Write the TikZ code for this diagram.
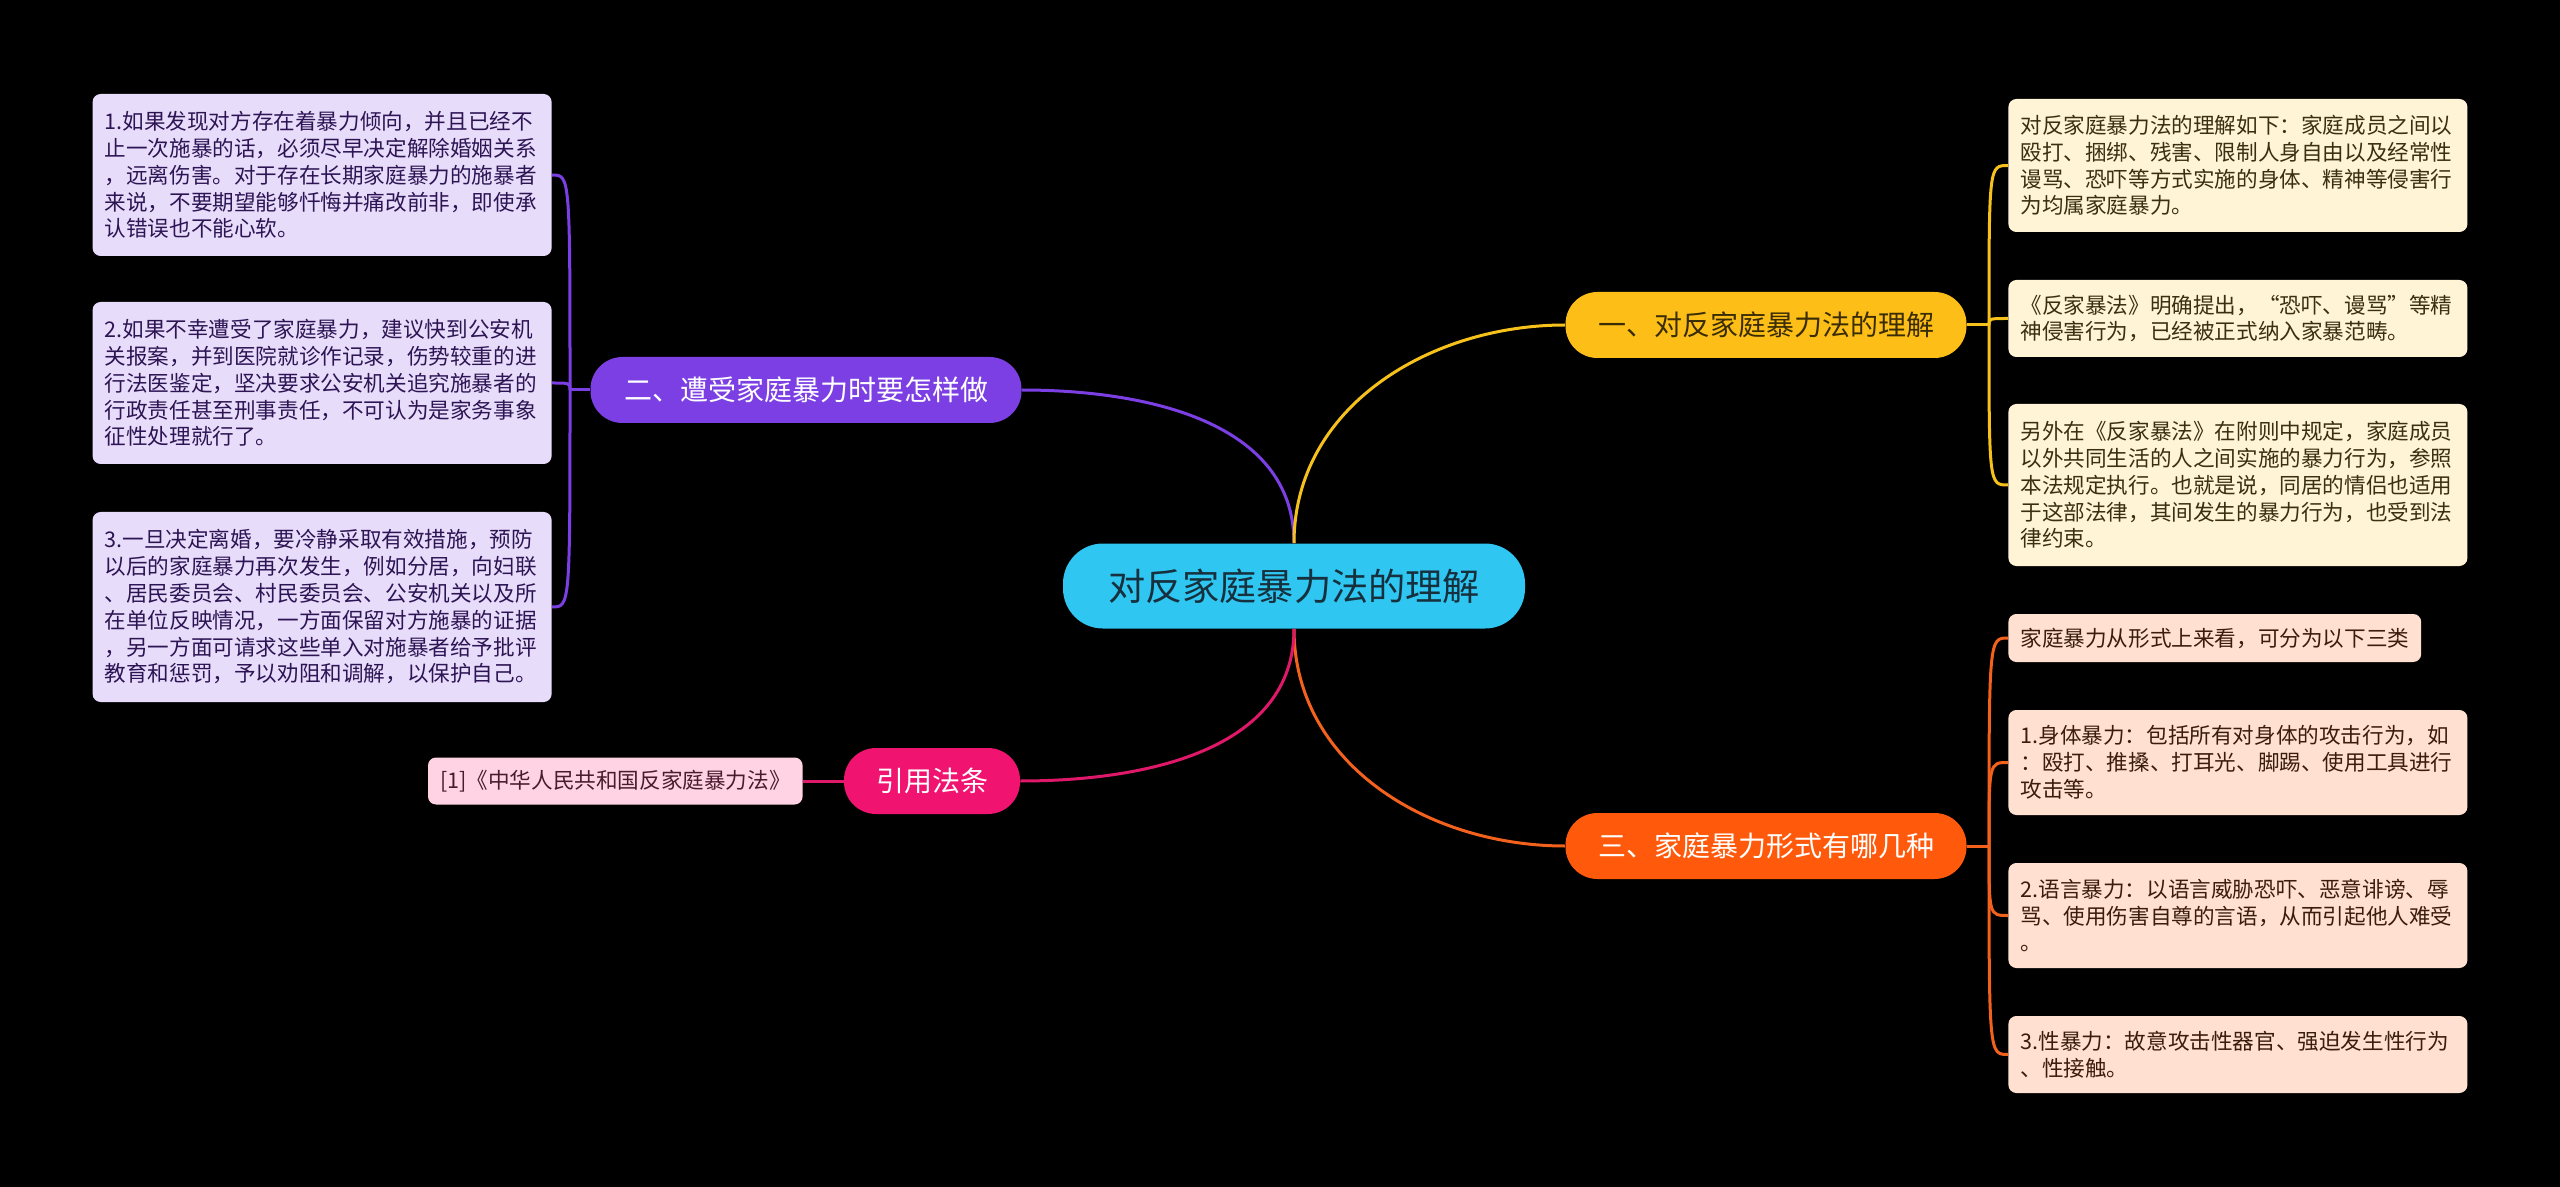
\documentclass[tikz,border=0pt]{standalone}
\usepackage{fontspec}
\setmainfont{Noto Sans CJK SC}
\usetikzlibrary{positioning}
\definecolor{Night}{HTML}{000000}
\definecolor{rootfill}{HTML}{2FC6F2}
\definecolor{roottext}{HTML}{17303D}
\definecolor{goldfill}{HTML}{FDBF17}
\definecolor{goldline}{HTML}{F7C11C}
\definecolor{goldtext}{HTML}{3A2C05}
\definecolor{goldleaf}{HTML}{FFF4D6}
\definecolor{goldink}{HTML}{3B2F12}
\definecolor{viofill}{HTML}{7B3FE4}
\definecolor{violeaf}{HTML}{E8DCFB}
\definecolor{vioink}{HTML}{2D1554}
\definecolor{orgfill}{HTML}{FF5A0C}
\definecolor{orgline}{HTML}{F2621C}
\definecolor{orgleaf}{HTML}{FFE0D1}
\definecolor{orgink}{HTML}{3B1D0E}
\definecolor{pnkfill}{HTML}{F0136F}
\definecolor{pnkline}{HTML}{E0186A}
\definecolor{pnkleaf}{HTML}{FFD3E4}
\definecolor{pnkink}{HTML}{4A1A2E}
\tikzset{
  root/.style={rectangle,rounded corners=20pt,fill=rootfill,text=roottext,font=\fontsize{18.6}{22}\selectfont,minimum width=231pt,minimum height=42.5pt},
  br/.style={rectangle,rounded corners=16pt,font=\fontsize{14}{17}\selectfont,minimum height=33pt,inner xsep=10pt},
  lf/.style={rectangle,rounded corners=4pt,font=\fontsize{10.8}{13.4}\selectfont,align=left,inner xsep=6pt,inner ysep=0pt},
  wide/.style={lf,text width=217.5pt},
  vleaf/.style={wide,anchor=east,fill=violeaf,text=vioink},
  gleaf/.style={wide,anchor=west,fill=goldleaf,text=goldink},
  oleaf/.style={wide,anchor=west,fill=orgleaf,text=orgink},
  lk/.style={line width=1.5pt},
  vio/.style={lk,draw=viofill},
  gold/.style={lk,draw=goldline},
  org/.style={lk,draw=orgline},
  pnk/.style={lk,draw=pnkline},
}
\begin{document}
\begin{tikzpicture}[x=0.5pt,y=-0.5pt]
\fill[Night] (0,0) rectangle (2560,1187);
% -root-
\node[root] (ctr) at (1294,586) {对反家庭暴力法的理解};
% -branches-
\node[br,fill=goldfill,text=goldtext,minimum width=200.5pt] (b1) at (1766,325) {一、对反家庭暴力法的理解};
\node[br,fill=viofill,text=white,minimum width=215.5pt] (b2) at (806,390) {二、遭受家庭暴力时要怎样做};
\node[br,fill=orgfill,text=white,minimum width=200.5pt] (b3) at (1766,846) {三、家庭暴力形式有哪几种};
\node[br,fill=pnkfill,text=white,minimum width=88pt] (b4) at (932,781) {引用法条};
\draw[vio] (ctr.north) to[out=90,in=0] (b2.east);
\draw[gold] (ctr.north) to[out=90,in=180] (b1.west);
\draw[org] (ctr.south) to[out=-90,in=180] (b3.west);
\draw[pnk] (ctr.south) to[out=-90,in=0] (b4.east);
% -left leaves-
\node[vleaf,minimum height=81pt] (l1) at (552,175) {1.如果发现对方存在着暴力倾向，并且已经不\\止一次施暴的话，必须尽早决定解除婚姻关系\\，远离伤害。对于存在长期家庭暴力的施暴者\\来说，不要期望能够忏悔并痛改前非，即使承\\认错误也不能心软。};
\node[vleaf,minimum height=81pt] (l2) at (552,383) {2.如果不幸遭受了家庭暴力，建议快到公安机\\关报案，并到医院就诊作记录，伤势较重的进\\行法医鉴定，坚决要求公安机关追究施暴者的\\行政责任甚至刑事责任，不可认为是家务事象\\征性处理就行了。};
\node[vleaf,minimum height=95pt] (l3) at (552,607) {3.一旦决定离婚，要冷静采取有效措施，预防\\以后的家庭暴力再次发生，例如分居，向妇联\\、居民委员会、村民委员会、公安机关以及所\\在单位反映情况，一方面保留对方施暴的证据\\，另一方面可请求这些单入对施暴者给予批评\\教育和惩罚，予以劝阻和调解，以保护自己。};
\coordinate (s2) at (570,390);
\draw[vio] (b2.west) -- (s2);
\foreach \n in {l1,l2,l3}{\draw[vio] (s2) .. controls (s2 |- \n.east) .. (\n.east);}
% -citation-
\node[lf,anchor=east,fill=pnkleaf,text=pnkink,minimum height=23.5pt] (cite) at (803,781) {[1]《中华人民共和国反家庭暴力法》};
\draw[pnk] (b4.west) -- (cite.east);
% -right leaves, gold-
\node[gleaf,minimum height=66.5pt] (r1) at (2008,165.5) {对反家庭暴力法的理解如下：家庭成员之间以\\殴打、捆绑、残害、限制人身自由以及经常性\\谩骂、恐吓等方式实施的身体、精神等侵害行\\为均属家庭暴力。};
\node[gleaf,minimum height=38.5pt] (r2) at (2008,318.5) {《反家暴法》明确提出，“恐吓、谩骂”等精\\神侵害行为，已经被正式纳入家暴范畴。};
\node[gleaf,minimum height=81pt] (r3) at (2008,485) {另外在《反家暴法》在附则中规定，家庭成员\\以外共同生活的人之间实施的暴力行为，参照\\本法规定执行。也就是说，同居的情侣也适用\\于这部法律，其间发生的暴力行为，也受到法\\律约束。};
\coordinate (s1) at (1989,325);
\draw[gold] (b1.east) -- (s1);
\foreach \n in {r1,r2,r3}{\draw[gold] (s1) .. controls (s1 |- \n.west) .. (\n.west);}
% -right leaves, orange-
\node[lf,anchor=west,fill=orgleaf,text=orgink,minimum height=24pt] (r4) at (2008,638) {家庭暴力从形式上来看，可分为以下三类};
\node[oleaf,minimum height=52.5pt] (r5) at (2008,762.5) {1.身体暴力：包括所有对身体的攻击行为，如\\：殴打、推搡、打耳光、脚踢、使用工具进行\\攻击等。};
\node[oleaf,minimum height=52.5pt] (r6) at (2008,915.5) {2.语言暴力：以语言威胁恐吓、恶意诽谤、辱\\骂、使用伤害自尊的言语，从而引起他人难受\\。};
\node[oleaf,minimum height=38.5pt] (r7) at (2008,1054.5) {3.性暴力：故意攻击性器官、强迫发生性行为\\、性接触。};
\coordinate (s3) at (1989,846);
\draw[org] (b3.east) -- (s3);
\foreach \n in {r4,r5,r6,r7}{\draw[org] (s3) .. controls (s3 |- \n.west) .. (\n.west);}
\end{tikzpicture}
\end{document}
